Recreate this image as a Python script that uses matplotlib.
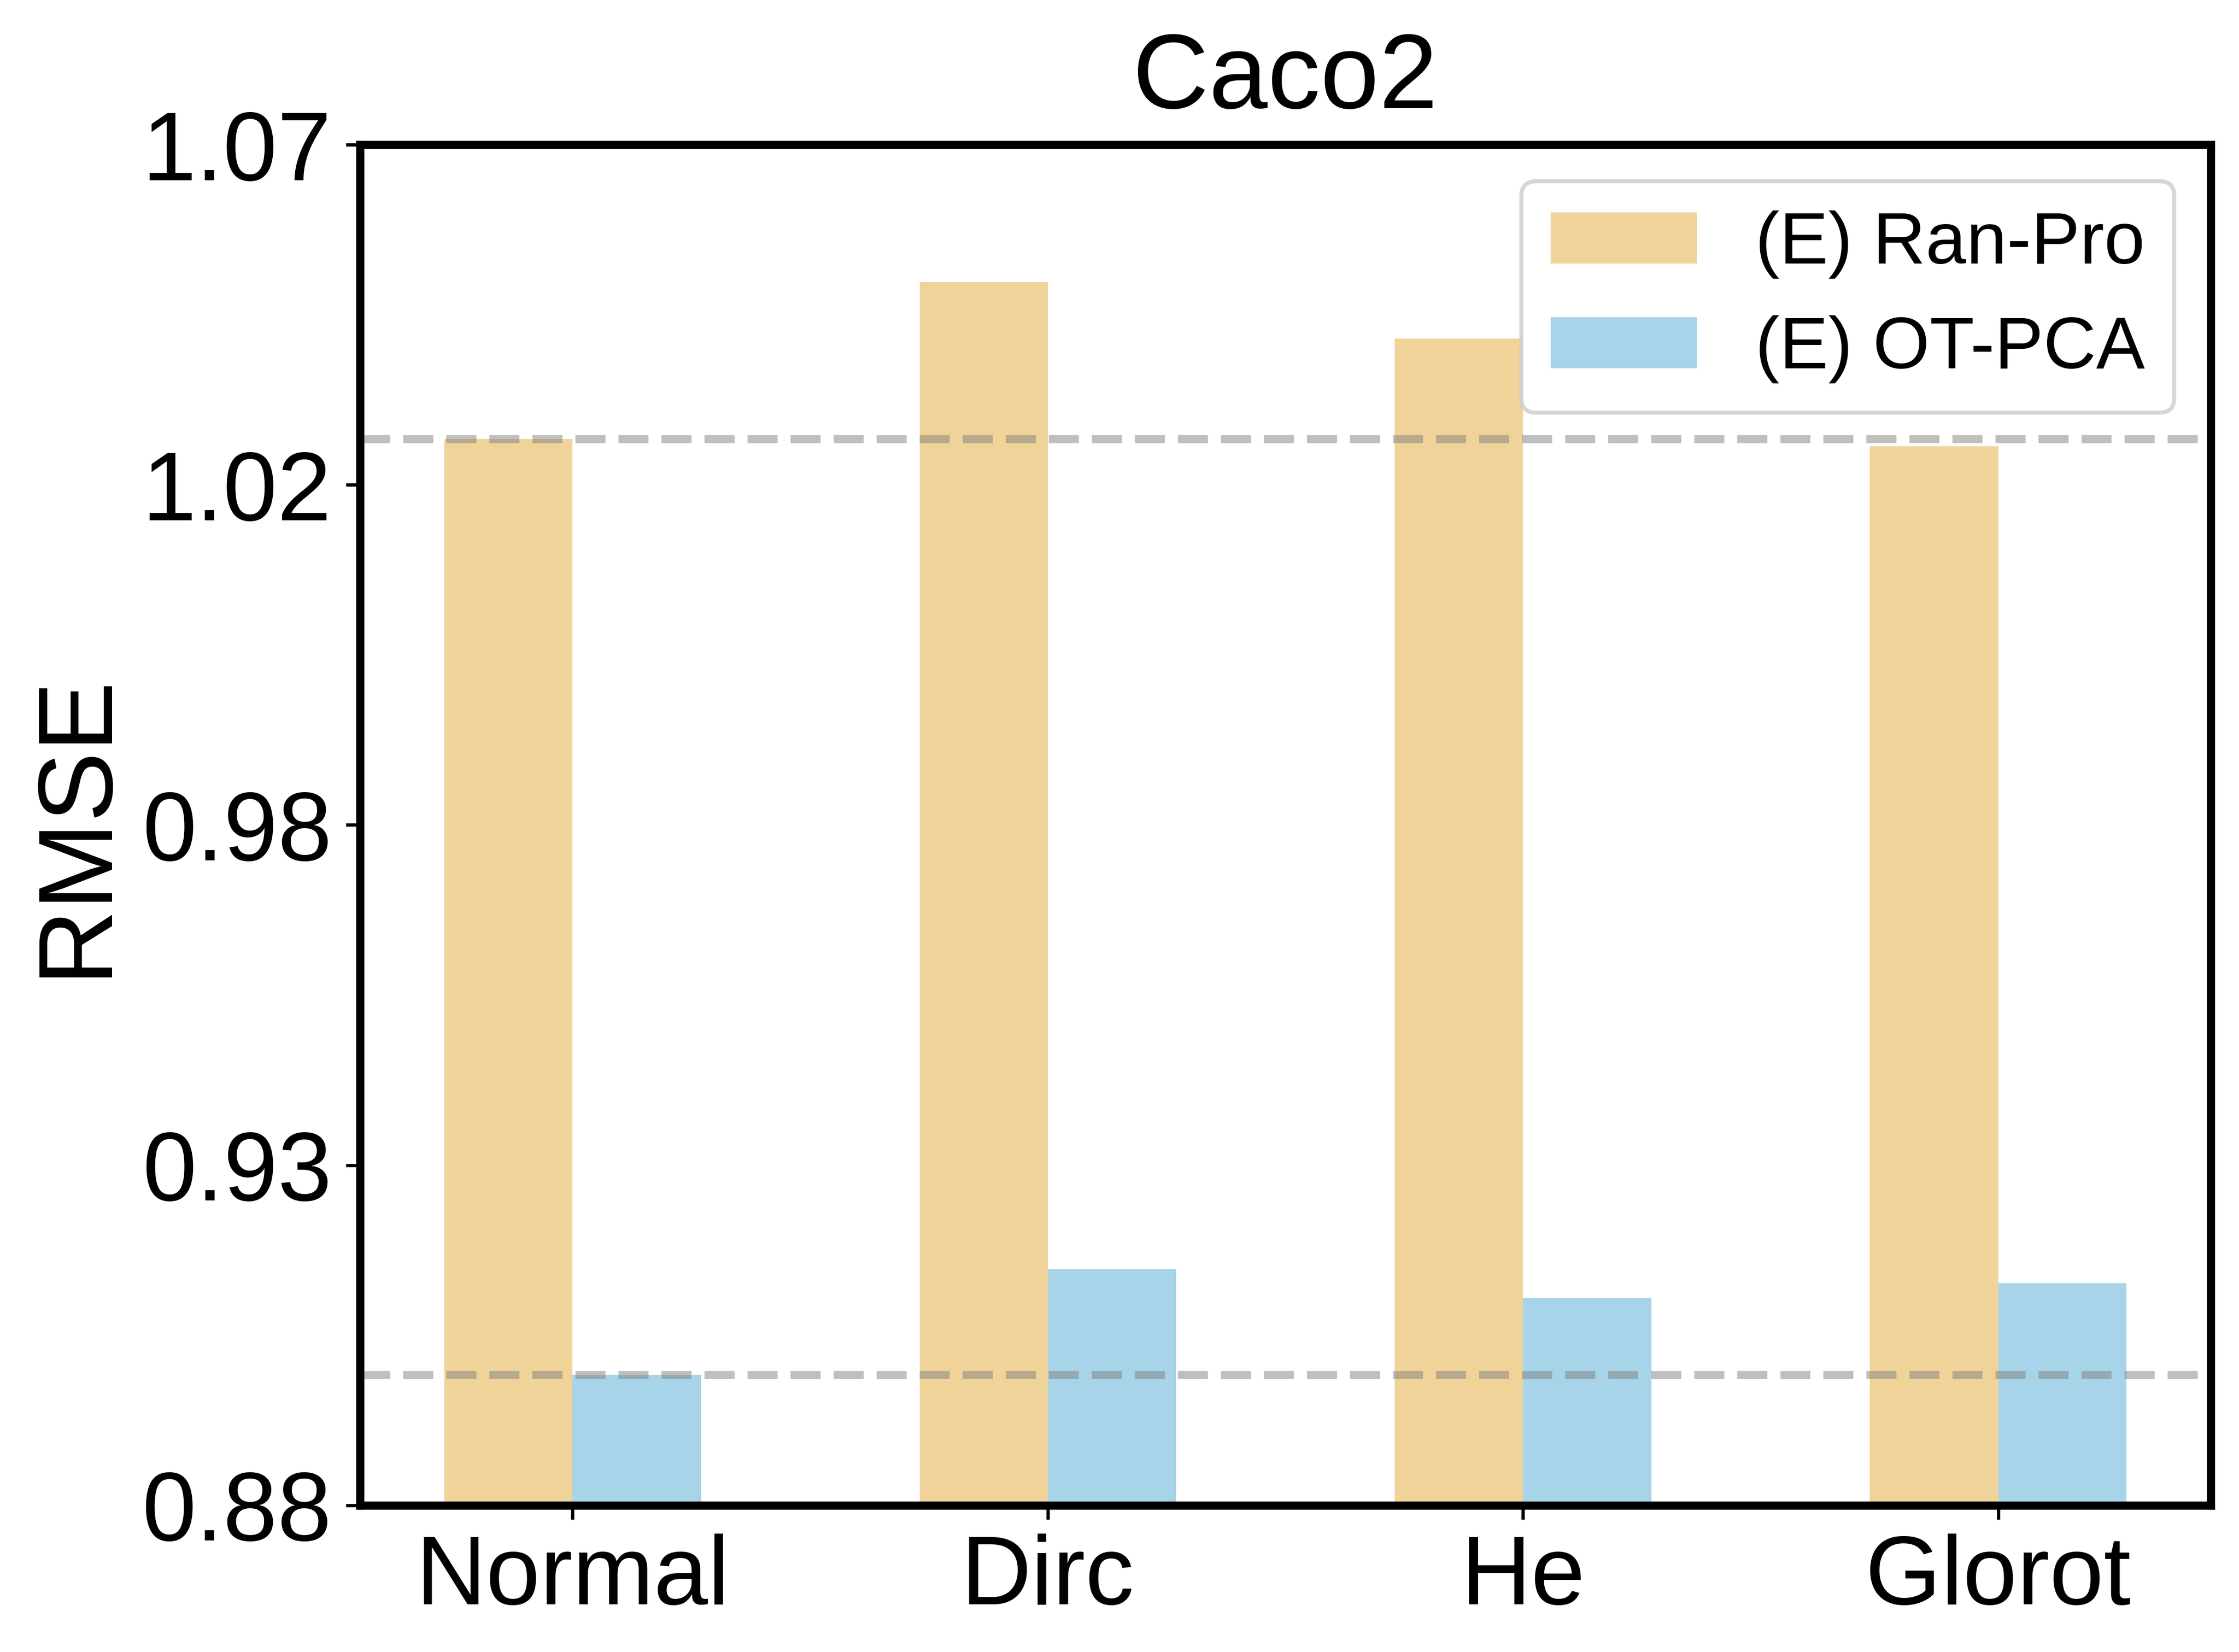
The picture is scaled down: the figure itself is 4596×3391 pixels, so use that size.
import numpy as np
import matplotlib
matplotlib.use('Agg')
import matplotlib.pyplot as plt

plt.rcParams['font.family'] = ['Liberation Sans', 'DejaVu Sans']

# values
inits = ['Normal', 'Dirc', 'He', 'Glorot']
ran_pro = [1.0289, 1.0508, 1.0429, 1.0279]
ot_pca = [0.8982, 0.9130, 0.9090, 0.9110]
ytick_labels = ['0.88', '0.93', '0.98', '1.02', '1.07']

fig = plt.figure(figsize=(4596 / 600, 3391 / 600), dpi=600)
ax = fig.add_axes([0.1609, 0.0888, 0.9873 - 0.1609, 0.9124 - 0.0888])

x = np.arange(len(inits))
w = 0.27
ax.bar(x - w / 2, ran_pro, w, color='#F0D399', label='(E) Ran-Pro')
ax.bar(x + w / 2, ot_pca, w, color='#A7D4E8', label='(E) OT-PCA')

# reference lines at the Normal init values
ax.axhline(ran_pro[0], color='gray', linestyle='--', linewidth=2, alpha=0.5)
ax.axhline(ot_pca[0], color='gray', linestyle='--', linewidth=2, alpha=0.5)

ax.set_ylim(0.88, 1.07)
ax.set_yticks(np.linspace(0.88, 1.07, 5))
ax.set_yticklabels(ytick_labels)
ax.set_xticks(x)
ax.set_xticklabels(inits)
ax.tick_params(axis='both', labelsize=24)

for s in ax.spines.values():
    s.set_linewidth(2)

ax.set_ylabel('RMSE', fontsize=26)
ax.set_title('Caco2', fontsize=26, pad=9)
ax.legend(loc='upper right', fontsize=18)

fig.savefig('out.png', dpi=600)
